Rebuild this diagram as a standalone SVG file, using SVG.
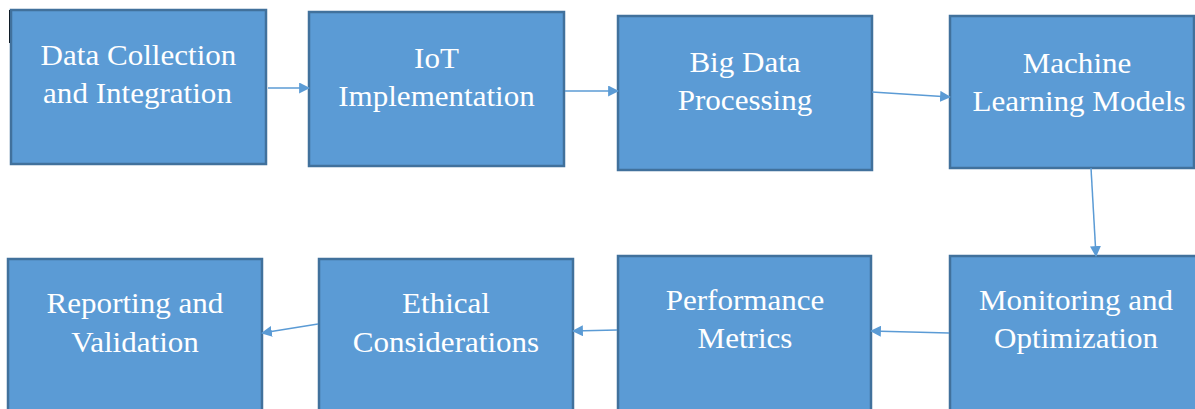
<svg xmlns="http://www.w3.org/2000/svg" width="1195" height="409" viewBox="0 0 1195 409">
  <style>
    .box { fill: #5B9BD5; stroke: #41719C; stroke-width: 2.5; }
    .label { fill: #FFFFFF; font-family: "Liberation Serif", "Times New Roman", serif; font-size: 28.5px; text-anchor: middle; }
    .link { stroke: #5B9BD5; stroke-width: 1.5; fill: none; marker-end: url(#arrow); }
  </style>
  <defs>
    <marker id="arrow" viewBox="0 0 10 10" refX="9" refY="5" markerWidth="11" markerHeight="11" markerUnits="userSpaceOnUse" orient="auto">
      <path d="M0,0 L10,5 L0,10 Z" fill="#5B9BD5"/>
    </marker>
  </defs>
  <rect width="1195" height="409" fill="#FFFFFF"/>
  <line x1="10" y1="10" x2="10" y2="43" stroke="#000000" stroke-width="2"/>

  <!-- labels are slightly widened with a horizontal scale: matrix(sx 0 0 1 cx baseline) -->
  <g id="node-data-collection">
    <rect class="box" x="11" y="10" width="255" height="154"/>
    <text class="label" transform="matrix(1.09 0 0 1 138.5 65)">Data Collection</text>
    <text class="label" transform="matrix(1.09 0 0 1 137.5 103)">and Integration</text>
  </g>
  <g id="node-iot">
    <rect class="box" x="309" y="12" width="255" height="154"/>
    <text class="label" transform="matrix(1.09 0 0 1 436.5 68)">IoT</text>
    <text class="label" transform="matrix(1.09 0 0 1 436.5 106)">Implementation</text>
  </g>
  <g id="node-big-data">
    <rect class="box" x="618" y="16" width="254" height="154"/>
    <text class="label" transform="matrix(1.09 0 0 1 745 72)">Big Data</text>
    <text class="label" transform="matrix(1.09 0 0 1 745 110)">Processing</text>
  </g>
  <g id="node-ml">
    <rect class="box" x="950" y="16" width="244" height="152"/>
    <text class="label" transform="matrix(1.09 0 0 1 1077 73)">Machine</text>
    <text class="label" transform="matrix(1.09 0 0 1 1079 111)">Learning Models</text>
  </g>
  <g id="node-monitoring">
    <rect class="box" x="950" y="256" width="250" height="160"/>
    <text class="label" transform="matrix(1.09 0 0 1 1076 310)">Monitoring and</text>
    <text class="label" transform="matrix(1.09 0 0 1 1076 348)">Optimization</text>
  </g>
  <g id="node-performance">
    <rect class="box" x="618" y="256" width="253" height="160"/>
    <text class="label" transform="matrix(1.09 0 0 1 745 310)">Performance</text>
    <text class="label" transform="matrix(1.09 0 0 1 745 348)">Metrics</text>
  </g>
  <g id="node-ethical">
    <rect class="box" x="319" y="259" width="254" height="160"/>
    <text class="label" transform="matrix(1.09 0 0 1 446 313)">Ethical</text>
    <text class="label" transform="matrix(1.09 0 0 1 446 352)">Considerations</text>
  </g>
  <g id="node-reporting">
    <rect class="box" x="8" y="259" width="254" height="160"/>
    <text class="label" transform="matrix(1.09 0 0 1 135 313)">Reporting and</text>
    <text class="label" transform="matrix(1.09 0 0 1 135 352)">Validation</text>
  </g>

  <g id="connectors">
    <line class="link" x1="268" y1="88" x2="309" y2="88"/>
    <line class="link" x1="565" y1="91" x2="618" y2="91"/>
    <line class="link" x1="872" y1="92" x2="950" y2="97"/>
    <line class="link" x1="1091" y1="168" x2="1096" y2="256"/>
    <line class="link" x1="949" y1="333" x2="871" y2="331"/>
    <line class="link" x1="617" y1="330" x2="573" y2="331"/>
    <line class="link" x1="318" y1="324" x2="262" y2="333"/>
  </g>
</svg>
